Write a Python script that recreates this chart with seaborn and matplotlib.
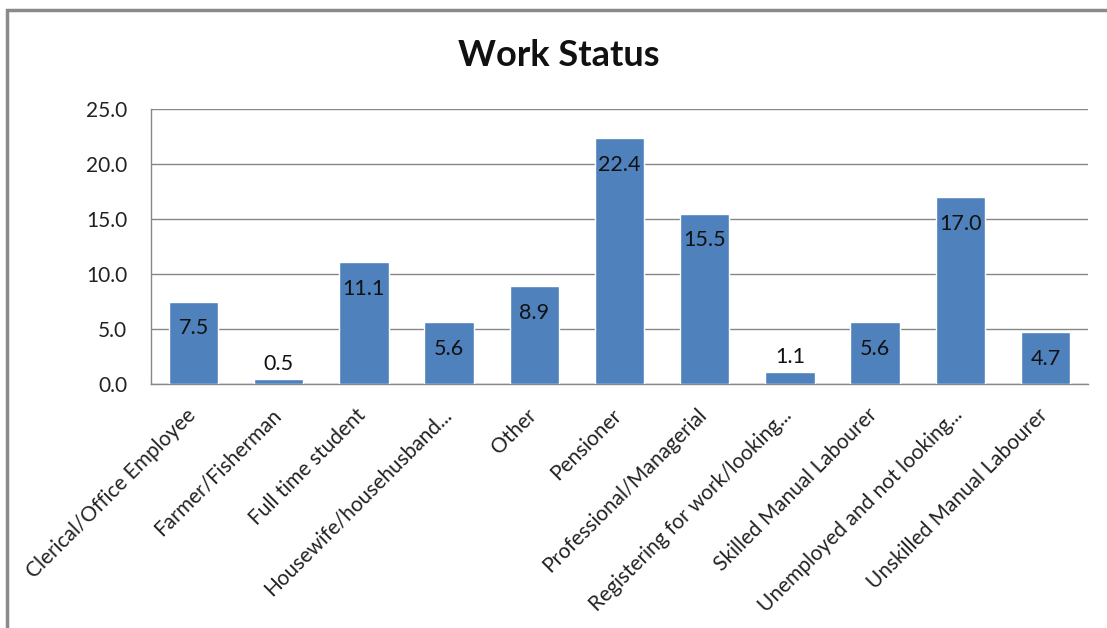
import matplotlib
matplotlib.use("Agg")
import matplotlib.pyplot as plt
import matplotlib.patches as patches
import matplotlib.transforms as mtransforms
import seaborn as sns
import pandas as pd

# chart data
categories = [
    "Clerical/Office Employee", "Farmer/Fisherman", "Full time student",
    "Housewife/househusband...", "Other", "Pensioner", "Professional/Managerial",
    "Registering for work/looking...", "Skilled Manual Labourer",
    "Unemployed and not looking...", "Unskilled Manual Labourer",
]
values = [7.5, 0.5, 11.1, 5.6, 8.9, 22.4, 15.5, 1.1, 5.6, 17.0, 4.7]
y_ticks = [0, 5, 10, 15, 20, 25]
title = "Work Status"

df = pd.DataFrame({"status": categories, "pct": values})

sns.set_style("white")
plt.rcParams["font.family"] = ["Lato", "DejaVu Sans"]

fig = plt.figure(figsize=(11.07, 6.28), dpi=100)
ax = fig.add_axes([151 / 1107, 1 - 384 / 628, (1088 - 151) / 1107, (384 - 109) / 628])

sns.barplot(data=df, x="status", y="pct", color="#4F81BD", saturation=1,
            width=0.58, ax=ax, zorder=3)

ax.set_ylim(0, 25)
ax.set_yticks(y_ticks)
ax.set_yticklabels([f"{t:.1f}" for t in y_ticks], fontsize=15, color="#222222")
ax.set_xlim(-0.5, len(categories) - 0.5)
ax.yaxis.grid(True, color="#878787", linewidth=1, zorder=0)
ax.set_axisbelow(True)
ax.tick_params(axis="y", length=0, pad=17)
ax.tick_params(axis="x", length=0, pad=15)
ax.set_xticks(range(len(categories)))
ax.set_xticklabels(categories, rotation=45, ha="right", va="top",
                   rotation_mode="anchor", fontsize=15, color="#222222")
# nudge the rotated labels a little to the left
shift = mtransforms.ScaledTranslation(-6 / 72, 0, fig.dpi_scale_trans)
for lbl in ax.get_xticklabels():
    lbl.set_transform(lbl.get_transform() + shift)
ax.set_xlabel("")
ax.set_ylabel("")

for side in ["top", "right"]:
    ax.spines[side].set_visible(False)
for side in ["left", "bottom"]:
    ax.spines[side].set_color("#878787")
    ax.spines[side].set_linewidth(1)

# data labels: inside end, or above for short bars
for i, v in enumerate(values):
    off = 15 if v < 2 else -27
    ax.annotate(f"{v:.1f}", (i, v), xytext=(0, off), textcoords="offset pixels",
                ha="center", va="center", fontsize=15.5, color="#111111", zorder=5)

fig.text(559 / 1107, 1 - 55 / 628, title, ha="center", va="center",
         fontsize=26, fontweight="bold", color="#111111")

# chart border (cut off at right and bottom)
border = patches.Rectangle((7 / 1107, -0.1), 1.2, 1.1 - 10 / 628,
                           transform=fig.transFigure, fill=False,
                           edgecolor="#8a8a8a", linewidth=2.5)
fig.patches.append(border)

fig.savefig("out.png", dpi=100)
